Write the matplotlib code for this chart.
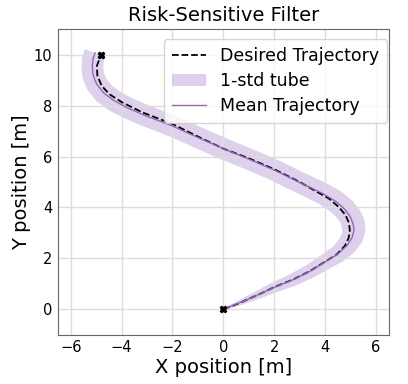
import numpy as np
import matplotlib
matplotlib.use("Agg")
import matplotlib.pyplot as plt

# desired trajectory
desired_x = [0.0, 0.5, 1.0, 1.43, 2.0, 2.74, 3.4, 4.0, 4.45, 4.78, 4.92, 4.97, 4.93,
             4.8, 4.55, 4.15, 3.7, 3.0, 2.0, 1.0, 0.0, -0.93, -1.98, -3.17, -3.98,
             -4.48, -4.78, -4.95, -4.97, -4.8]
desired_y = [0.0, 0.19, 0.41, 0.6, 0.87, 1.17, 1.5, 1.87, 2.15, 2.5, 2.8, 3.1, 3.4,
             3.7, 4.0, 4.35, 4.6, 5.0, 5.5, 5.93, 6.31, 6.75, 7.27, 7.73, 8.13,
             8.45, 8.78, 9.17, 9.57, 10.0]

# mean trajectory and its 1-std half width
mean_x = [0.0, 0.5, 1.0, 1.45, 2.0, 2.74, 3.4, 4.0, 4.5, 4.85, 5.05, 5.13, 5.1,
          4.98, 4.75, 4.4, 3.9, 3.0, 2.0, 1.0, 0.0, -1.0, -2.0, -3.17, -3.8,
          -4.3, -4.7, -4.98, -5.12, -5.15, -5.12, -5.04]
mean_y = [0.0, 0.2, 0.41, 0.61, 0.86, 1.16, 1.49, 1.86, 2.17, 2.5, 2.8, 3.1, 3.35,
          3.65, 3.95, 4.25, 4.55, 4.98, 5.47, 5.9, 6.31, 6.75, 7.2, 7.65, 7.93,
          8.2, 8.5, 8.85, 9.2, 9.55, 9.85, 10.07]
std = [0.04, 0.09, 0.14, 0.17, 0.21, 0.25, 0.28, 0.31, 0.35, 0.39, 0.43, 0.46, 0.47,
       0.46, 0.45, 0.44, 0.43, 0.42, 0.42, 0.42, 0.42, 0.42, 0.42, 0.42, 0.42,
       0.43, 0.43, 0.43, 0.43, 0.43, 0.43, 0.43]

purple = "tab:purple"

fig = plt.figure(figsize=(4.08, 3.84), dpi=100)
ax = fig.add_axes([0.142, 0.128, 0.811, 0.796])

mx = np.array(mean_x)
my = np.array(mean_y)
w = np.array(std)
tx = np.gradient(mx)
ty = np.gradient(my)
nrm = np.sqrt(tx**2 + ty**2)
nx = -ty / nrm
ny = tx / nrm
px = np.concatenate([mx + nx * w, (mx - nx * w)[::-1]])
py = np.concatenate([my + ny * w, (my - ny * w)[::-1]])

l1, = ax.plot(desired_x, desired_y, "k--", lw=1.3, label="Desired Trajectory", zorder=2)
tube = ax.fill(px, py, color=purple, alpha=0.3, lw=0, label="1-std tube", zorder=1)[0]
l2, = ax.plot(mean_x, mean_y, color=purple, lw=1.0, label="Mean Trajectory", zorder=3)
ax.plot([desired_x[0], desired_x[-1]], [desired_y[0], desired_y[-1]], "kX", ms=5, zorder=4)

ax.set_xlim(-6.5, 6.5)
ax.set_ylim(-1, 11)
ax.set_aspect("equal")
ax.set_xticks([-6, -4, -2, 0, 2, 4, 6])
ax.set_yticks([0, 2, 4, 6, 8, 10])
ax.tick_params(labelsize=10.5, length=0, pad=4)
ax.grid(True, color="#dddddd", lw=1)
for s in ax.spines.values():
    s.set_color("0.4")

ax.set_title("Risk-Sensitive Filter", fontsize=14)
ax.set_xlabel("X position [m]", fontsize=14, labelpad=2)
ax.set_ylabel("Y position [m]", fontsize=14, labelpad=2)
ax.legend(handles=[l1, tube, l2], loc="upper right", fontsize=12.5,
          bbox_to_anchor=(0.995, 0.968), borderaxespad=0, labelspacing=0.4,
          borderpad=0.45)

fig.savefig("out.png", dpi=100)
